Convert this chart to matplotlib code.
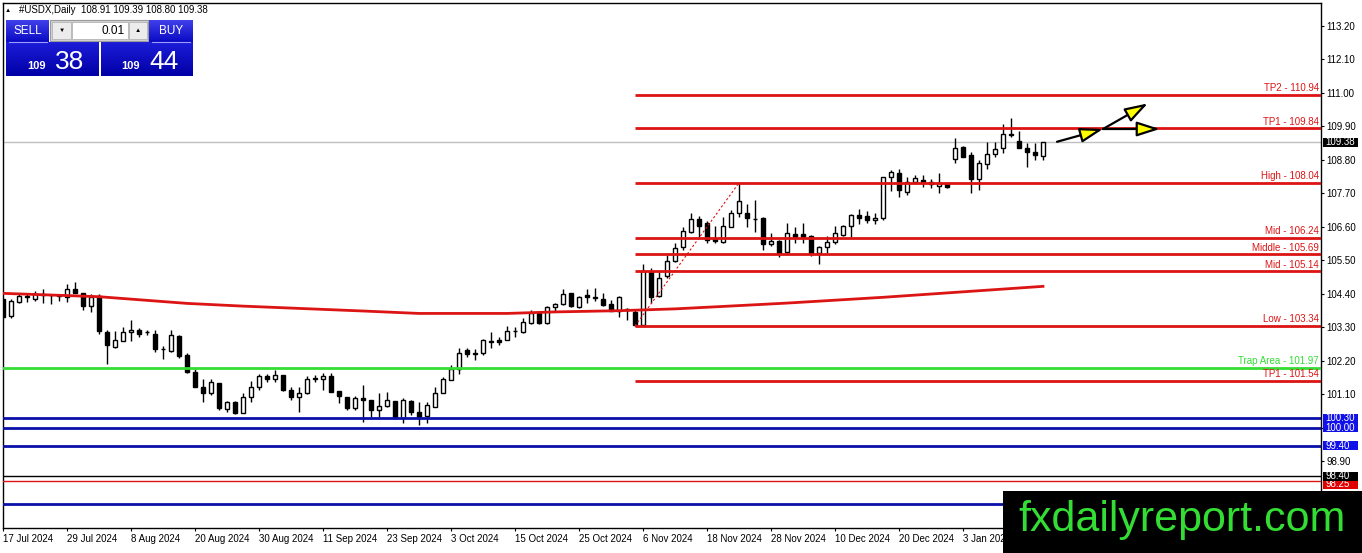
import numpy as np
import matplotlib
matplotlib.use("Agg")
import matplotlib.pyplot as plt
from matplotlib.patches import Rectangle
from matplotlib.colors import LinearSegmentedColormap

plt.rcParams['font.family'] = ['Liberation Sans', 'DejaVu Sans']

# ---- data ----
date_labels = ["17 Jul 2024", "29 Jul 2024", "8 Aug 2024", "20 Aug 2024", "30 Aug 2024",
               "11 Sep 2024", "23 Sep 2024", "3 Oct 2024", "15 Oct 2024", "25 Oct 2024",
               "6 Nov 2024", "18 Nov 2024", "28 Nov 2024", "10 Dec 2024", "20 Dec 2024",
               "3 Jan 2025"]
bars_per_label = 8

open_ = [104.21, 103.66, 104.13, 104.30, 104.24, 104.39, 104.37, 104.33, 104.30, 104.54,
         104.41, 103.99, 104.32, 103.14, 102.65, 102.86, 103.13, 103.20, 103.15, 103.09,
         102.58, 102.52, 103.00, 102.37, 101.82, 101.34, 101.12, 101.47, 100.60, 100.84,
         100.49, 100.99, 101.32, 101.71, 101.61, 101.72, 101.23, 101.01, 101.12, 101.61,
         101.60, 101.69, 101.20, 101.01, 100.63, 100.96, 100.90, 100.59, 100.70, 100.87,
         100.30, 100.87, 100.52, 100.38, 100.68, 101.14, 101.56, 101.91, 102.55, 102.46,
         102.44, 102.83, 102.87, 102.87, 103.17, 103.15, 103.44, 103.75, 103.44, 103.95,
         104.06, 104.41, 103.97, 104.36, 104.27, 104.21, 104.06, 103.84, 103.88, 103.81,
         103.37, 105.12, 104.32, 104.98, 105.48, 105.92, 106.43, 106.84, 106.71, 106.18,
         106.11, 106.60, 107.04, 107.04, 106.86, 106.87, 106.02, 106.14, 105.78, 106.35,
         106.35, 106.31, 105.74, 105.94, 106.11, 106.33, 106.62, 106.98, 106.95, 106.82,
         106.90, 108.22, 108.35, 107.75, 108.08, 108.15, 108.08, 107.94, 108.02, 108.81,
         109.23, 108.95, 108.18, 108.66, 108.98, 109.17, 109.66, 109.41, 109.18, 109.06,
         108.91]
high = [104.24, 104.21, 104.40, 104.38, 104.49, 104.54, 104.40, 104.38, 104.71, 104.77,
        104.41, 104.38, 104.38, 103.20, 103.18, 103.31, 103.53, 103.26, 103.22, 103.22,
        102.68, 103.20, 103.03, 102.46, 101.91, 101.61, 101.61, 101.47, 100.88, 100.88,
        101.12, 101.54, 101.76, 101.76, 101.89, 101.72, 101.34, 101.34, 101.69, 101.72,
        101.80, 101.80, 101.20, 101.01, 101.04, 101.39, 100.90, 101.14, 101.18, 100.87,
        100.96, 100.90, 100.85, 100.85, 101.34, 101.67, 102.05, 102.63, 102.60, 102.57,
        102.90, 103.15, 102.98, 103.34, 103.31, 103.59, 103.86, 103.80, 103.99, 104.10,
        104.54, 104.43, 104.32, 104.54, 104.57, 104.41, 104.19, 104.32, 103.94, 103.86,
        105.39, 105.23, 105.12, 105.67, 106.05, 106.60, 107.06, 106.95, 106.80, 106.62,
        106.93, 107.15, 108.04, 107.36, 107.47, 106.93, 106.38, 106.16, 106.73, 106.58,
        106.71, 106.34, 105.96, 106.29, 106.62, 106.66, 107.02, 107.17, 107.13, 107.05,
        108.24, 108.46, 108.51, 108.24, 108.30, 108.30, 108.17, 108.35, 108.03, 109.50,
        109.25, 109.06, 108.79, 109.39, 109.39, 109.97, 110.16, 109.75, 109.36, 109.36,
        109.39]
low = [103.60, 103.60, 104.08, 104.13, 104.16, 104.08, 104.05, 104.16, 104.11, 104.41,
       103.86, 103.80, 103.09, 102.09, 102.63, 102.86, 102.85, 102.98, 103.04, 102.49,
       102.24, 102.49, 102.30, 101.80, 101.32, 100.85, 101.07, 100.57, 100.52, 100.44,
       100.49, 100.85, 101.25, 101.50, 101.50, 101.21, 100.90, 100.52, 101.10, 101.50,
       101.23, 101.18, 100.81, 100.57, 100.57, 100.19, 100.35, 100.35, 100.68, 100.30,
       100.16, 100.41, 100.08, 100.14, 100.68, 101.12, 101.56, 101.76, 102.33, 102.22,
       102.40, 102.63, 102.71, 102.87, 102.98, 103.12, 103.40, 103.40, 103.40, 103.81,
       104.03, 103.97, 103.92, 104.08, 104.17, 103.99, 103.84, 103.64, 103.55, 103.34,
       103.34, 104.10, 104.30, 104.93, 105.45, 105.85, 106.38, 106.27, 106.07, 106.07,
       106.08, 106.58, 106.93, 106.58, 106.43, 105.83, 105.96, 105.59, 105.74, 106.05,
       106.05, 105.63, 105.37, 105.74, 106.03, 106.30, 106.27, 106.69, 106.71, 106.69,
       106.82, 107.78, 107.56, 107.64, 108.00, 107.89, 107.86, 107.71, 107.88, 108.70,
       108.88, 107.72, 107.80, 108.51, 108.90, 109.03, 109.55, 109.17, 108.57, 108.79,
       108.80]
close = [103.64, 104.16, 104.32, 104.31, 104.38, 104.37, 104.36, 104.34, 104.54, 104.43,
         104.00, 104.30, 103.17, 102.70, 102.87, 103.14, 103.20, 103.09, 103.14, 102.57,
         102.57, 103.03, 102.35, 101.82, 101.32, 101.12, 101.50, 100.63, 100.84, 100.49,
         101.01, 101.32, 101.69, 101.58, 101.72, 101.25, 101.01, 101.14, 101.61, 101.62,
         101.69, 101.18, 101.03, 100.63, 100.96, 100.90, 100.59, 100.70, 100.90, 100.32,
         100.90, 100.52, 100.35, 100.74, 101.14, 101.61, 101.91, 102.44, 102.42, 102.43,
         102.87, 102.82, 102.81, 103.17, 103.18, 103.48, 103.75, 103.42, 103.95, 104.06,
         104.39, 103.99, 104.30, 104.28, 104.28, 104.02, 103.84, 104.28, 103.87, 103.37,
         105.15, 104.30, 104.90, 105.48, 105.89, 106.46, 106.84, 106.62, 106.16, 106.13,
         106.62, 107.04, 107.45, 106.87, 106.85, 106.03, 106.13, 105.74, 106.38, 106.27,
         106.27, 105.74, 105.94, 106.11, 106.38, 106.62, 106.98, 106.90, 106.82, 106.90,
         108.22, 108.40, 107.80, 108.08, 108.19, 108.08, 108.00, 108.02, 107.89, 109.20,
         108.90, 108.18, 108.68, 108.98, 109.15, 109.64, 109.60, 109.17, 109.06, 108.95,
         109.38]

# moving average (red curve), sampled at a few bars
ma_bar = [0, 12, 23, 30, 45, 52, 63, 69, 77, 84, 90, 98, 110, 120, 130]
ma_val = [104.41, 104.30, 104.08, 103.99, 103.83, 103.75, 103.75, 103.80, 103.84, 103.90,
          103.98, 104.09, 104.28, 104.46, 104.64]

# fibonacci anchor (dotted diagonal) and its levels
fib_bar = [79, 92]
fib_price = [103.34, 108.04]
fib_names = ["TP2", "TP1", "High", "Mid", "Middle", "Mid", "Low", "TP1"]
fib_levels = [110.94, 109.84, 108.04, 106.24, 105.69, 105.14, 103.34, 101.54]

trap_level = 101.97
blue_levels = [100.30, 100.00, 99.40]
blue_low_level = 97.50
black_level = 98.40
red_thin_level = 98.25
bid = 109.38

# projection arrows
arrow_from = [(131.75, 109.39), (137.5, 109.81), (137.5, 109.81)]
arrow_to = [(137.5, 109.81), (143.1, 110.65), (144.6, 109.81)]

price_ticks = [113.20, 112.10, 111.00, 109.90, 108.80, 107.70, 106.60, 105.50, 104.40,
               103.30, 102.20, 101.10, 100.00, 98.90]

RED = '#dc1414'
BLUE = '#0a10a8'
GREEN = '#33dd33'

W, H = 1362, 553
fig = plt.figure(figsize=(W / 100, H / 100), dpi=100)
ax = fig.add_axes([3 / W, (H - 528) / H, (1321 - 3) / W, (528 - 3) / H])
ax.set_xlim(0, 164.75)
ax.set_ylim(96.70, 113.95)

# candles
x = np.arange(len(close))
o = np.array(open_)
c = np.array(close)
ax.vlines(x, low, high, color='black', lw=1, zorder=3)
body_col = np.where(c >= o, 'white', 'black')
ax.bar(x, np.maximum(np.abs(c - o), 0.005), bottom=np.minimum(o, c), width=0.58,
       color=body_col, edgecolor='black', linewidth=1, zorder=4)

ytr = ax.get_yaxis_transform()

# horizontal lines
ax.axhline(bid, color='#c0c0c0', lw=1, zorder=2)
for lv in fib_levels:
    ax.hlines(lv, fib_bar[0], 200, color=RED, lw=2, zorder=5)
for name, lv in zip(fib_names, fib_levels):
    ax.text(0.9985, lv + 0.05, f"{name} - {lv:.2f}", transform=ytr, ha='right', va='bottom',
            fontsize=7, color=RED, zorder=6)
ax.axhline(trap_level, color=GREEN, lw=2, zorder=5)
ax.text(0.9985, trap_level + 0.05, f"Trap Area - {trap_level:.2f}", transform=ytr,
        ha='right', va='bottom', fontsize=7, color=GREEN, zorder=6)
for lv in blue_levels + [blue_low_level]:
    ax.axhline(lv, color=BLUE, lw=2, zorder=5)
ax.axhline(black_level, color='black', lw=1, zorder=5)
ax.axhline(red_thin_level, color=RED, lw=1, zorder=5)

# moving average and fib diagonal
ax.plot(ma_bar, ma_val, color=RED, lw=2, zorder=5)
ax.plot(fib_bar, fib_price, color=RED, lw=0.8, ls=(0, (2, 2)), zorder=5)

# arrows
for p0, p1 in zip(arrow_from, arrow_to):
    ax.annotate('', xy=p1, xytext=p0,
                arrowprops=dict(arrowstyle='-|>,head_length=1.4,head_width=0.45',
                                mutation_scale=10, fc='#ffff00', ec='black', lw=1.6,
                                shrinkA=0, shrinkB=0), zorder=7)


# price boxes on the right scale, later ones drawn on top
def price_box(level, label, fc, z, tc='white'):
    h = 0.30
    ax.add_patch(Rectangle((1.0015, level - h / 2), 0.0266, h, transform=ytr,
                           fc=fc, ec='none', clip_on=False, zorder=z))
    ax.text(1.0035, level, label, transform=ytr, ha='left', va='center',
            fontsize=7, color=tc, clip_on=False, zorder=z + 0.5)


price_box(red_thin_level - 0.12, f"{red_thin_level:.2f}", '#e00000', 20)
price_box(black_level, f"{black_level:.2f}", 'black', 21)
price_box(bid, f"{bid:.2f}", 'black', 22)
for k, lv in enumerate(blue_levels):
    price_box(lv, f"{lv:.2f}", '#1010e8', 23 + k)

# axes styling
ax.yaxis.tick_right()
ax.set_yticks(price_ticks)
ax.set_yticklabels([f"{t:.2f}" if t not in blue_levels else "" for t in price_ticks])
ax.set_xticks(list(range(0, bars_per_label * len(date_labels), bars_per_label)))
ax.set_xticklabels(date_labels, ha='left')
ax.tick_params(axis='both', length=2.5, width=0.8, labelsize=7, colors='black')
ax.tick_params(axis='y', pad=1.5)
ax.tick_params(axis='x', pad=2)
for s in ax.spines.values():
    s.set_linewidth(1)
    s.set_color('black')

# overlay in pixel coordinates: header, trade panel, watermark
ov = fig.add_axes([0, 0, 1, 1], zorder=10)
ov.axis('off')


def grad(x0, y0, x1, y1, c_top, c_bot):
    cmap = LinearSegmentedColormap.from_list('g', [c_top, c_bot])
    ov.imshow(np.linspace(0, 1, 40)[:, None], cmap=cmap, extent=(x0, x1, y1, y0),
              aspect='auto', interpolation='bilinear', zorder=11)


ov.text(8, 10, '▲', fontsize=4.5, ha='center', va='center', zorder=12)
ov.text(19, 10, "#USDX,Daily  108.91 109.39 108.80 109.38", fontsize=7, ha='left',
        va='center', zorder=12)

grad(6, 20, 49, 42, '#4040ea', '#0a0ac4')
grad(149, 20, 193, 42, '#4040ea', '#0a0ac4')
grad(6, 42, 99, 76, '#1c1cd8', '#0000a6')
grad(101, 42, 193, 76, '#1c1cd8', '#0000a6')
ov.add_patch(Rectangle((50, 20), 98, 21, fc='#d4d4d4', ec='#9a9a9a', lw=0.8, zorder=12))
ov.add_patch(Rectangle((52, 22), 19, 17, fc='#ececec', ec='#b4b4b4', lw=0.6, zorder=13))
ov.add_patch(Rectangle((72, 22), 56, 17, fc='white', ec='#b4b4b4', lw=0.6, zorder=13))
ov.add_patch(Rectangle((129, 22), 18, 17, fc='#ececec', ec='#b4b4b4', lw=0.6, zorder=13))
ov.text(61.5, 30.5, '▼', fontsize=4.5, ha='center', va='center', zorder=14)
ov.text(138, 30.5, '▲', fontsize=4.5, ha='center', va='center', zorder=14)
ov.text(125, 30.5, '0.01', fontsize=8.5, ha='right', va='center', zorder=14)
ov.plot([9, 47], [41.5, 41.5], color='#9a9aff', lw=0.8, zorder=14)
ov.plot([152, 190], [41.5, 41.5], color='#9a9aff', lw=0.8, zorder=14)
ov.text(27.5, 30.5, 'SELL', fontsize=8.5, color='white', ha='center', va='center', zorder=14)
ov.text(171, 30.5, 'BUY', fontsize=8.5, color='white', ha='center', va='center', zorder=14)
ov.text(36, 69, '109', fontsize=8, color='white', ha='center', va='baseline',
        fontweight='bold', zorder=14)
ov.text(70, 69, '38', fontsize=19, color='white', ha='center', va='baseline', zorder=14)
ov.text(130, 69, '109', fontsize=8, color='white', ha='center', va='baseline',
        fontweight='bold', zorder=14)
ov.text(164, 69, '44', fontsize=19, color='white', ha='center', va='baseline', zorder=14)

ov.add_patch(Rectangle((1003, 491), W - 1003, H - 491, fc='black', ec='none', zorder=15))
ov.text(1182, 520, 'fxdailyreport.com', fontsize=31, color=GREEN, ha='center',
        va='center', zorder=16)

ov.set_xlim(0, W)
ov.set_ylim(H, 0)

fig.savefig('out.png', dpi=100)
